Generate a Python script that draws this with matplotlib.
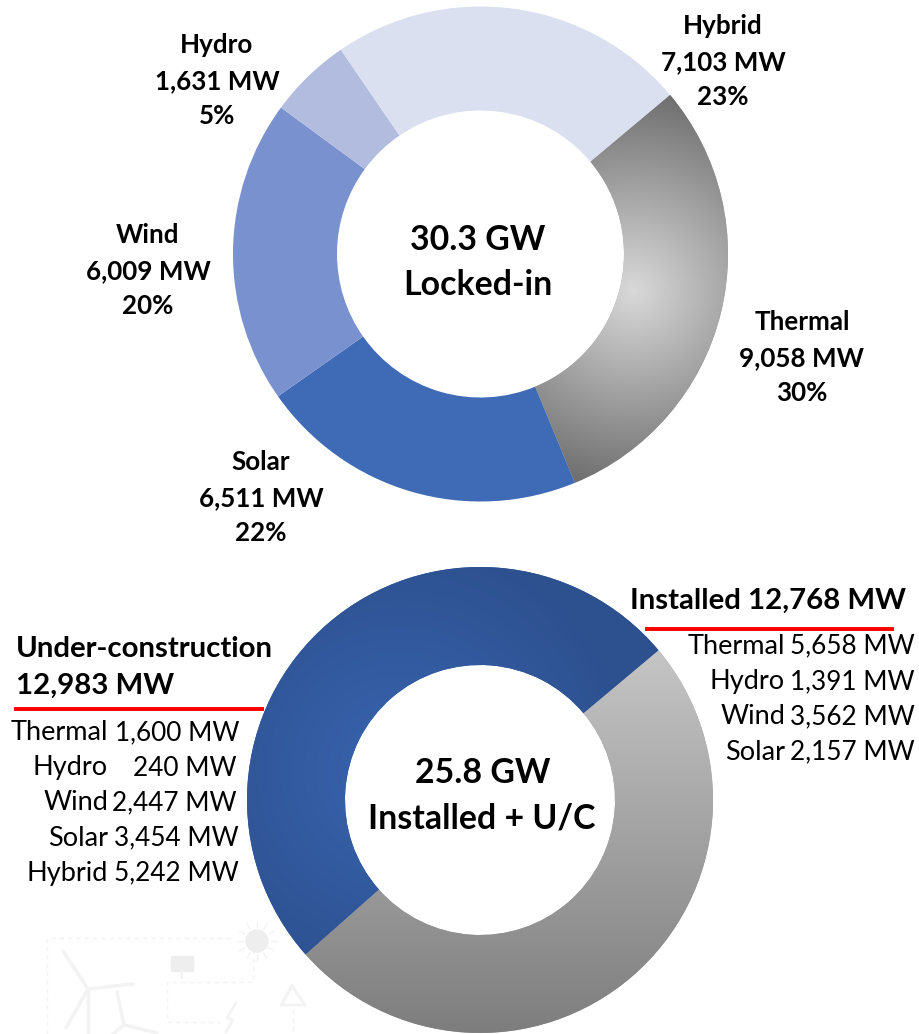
import numpy as np
import matplotlib
matplotlib.use("Agg")
import matplotlib.pyplot as plt

plt.rcParams['font.family'] = ['Lato', 'DejaVu Sans']

W, H = 920, 1034

# top donut, clockwise from the thermal slice
locked_names = ["Thermal", "Solar", "Wind", "Hydro", "Hybrid"]
locked_mw = [9058, 6511, 6009, 1631, 7103]
locked_pct = [30, 22, 20, 5, 23]
locked_colors = ["#a0a0a0", "#3f6ab5", "#7a91d0", "#b2bcde", "#dae0ef"]
locked_label_x = [802, 261, 148, 217, 723]
locked_label_y = [322, 462, 235, 45, 26]

# bottom donut
status_mw = [12768, 12983]
status_colors = ["#a2a2a2", "#31589e"]

uc_names = ["Thermal", "Hydro", "Wind", "Solar", "Hybrid"]
uc_mw = [1600, 240, 2447, 3454, 5242]
uc_value_right = [239, 237, 237, 239, 239]
uc_y = [733, 768, 803, 838, 873]

inst_names = ["Thermal", "Hydro", "Wind", "Solar"]
inst_mw = [5658, 1391, 3562, 2157]
inst_y = [646, 682, 717, 752]


def Y(py):
    return H - py


def grad_fill(ax, wedge, box, func):
    # gradient image clipped to a wedge, box is x0, x1, ytop, ybottom in pixels
    x0, x1, y0, y1 = box
    xs = np.arange(x0, x1, 1.0)
    ys = np.arange(y0, y1, 1.0)
    xx, yy = np.meshgrid(xs, ys)
    im = ax.imshow(func(xx, yy), extent=(x0, x1, Y(y1), Y(y0)), origin="upper",
                   interpolation="bilinear", zorder=3, aspect="auto")
    im.set_clip_path(wedge)


def mix(a, b, t):
    a, b = np.array(a, float), np.array(b, float)
    t = np.clip(t, 0, 1)[..., None]
    return ((a + (b - a) * t) / 255.0)


def thermal_fill(xx, yy):
    d = np.hypot(xx - 633, yy - 290)
    return mix([217, 217, 217], [110, 110, 110], d / 200)


def installed_fill(xx, yy):
    return mix([197, 197, 197], [125, 125, 125], (yy - 650) / 384)


def uc_fill(xx, yy):
    d = np.hypot(xx - 400, yy - 770)
    return mix([56, 100, 176], [45, 80, 142], d / 240)


fig = plt.figure(figsize=(W / 100, H / 100), dpi=100)
ax = fig.add_axes([0, 0, 1, 1])

# faint watermark sketch behind the bottom donut
wm = "#f3f3f3"
wm_d = dict(color=wm, lw=1, ls=(0, (3, 3)), zorder=1)
ax.plot([47, 47, 230], [Y(1034), Y(938), Y(938)], **wm_d)
ax.plot([253, 253, 167, 167, 220], [Y(950), Y(982), Y(982), Y(1022), Y(1022)], **wm_d)
ax.plot([293, 293], [Y(1010), Y(1034)], **wm_d)
ax.add_patch(plt.Circle((257, Y(941)), 11, color="#eeeeee", zorder=1))
for a in np.arange(0, 360, 30):
    ca, sa = np.cos(np.radians(a)), np.sin(np.radians(a))
    ax.plot([257 + 14 * ca, 257 + 20 * ca], [Y(941) + 14 * sa, Y(941) + 20 * sa], color=wm, lw=1, zorder=1)
ax.fill([171, 193, 193, 171], [Y(956), Y(956), Y(971), Y(971)], color="#eeeeee", zorder=1)
ax.plot([181, 181], [Y(971), Y(977)], color=wm, lw=2, zorder=1)
for tx, ty, blades in [(88, 989, [(63, 951), (133, 984), (66, 1028)]),
                       (124, 1025, [(117, 992), (157, 1033), (113, 1034)])]:
    for bx, by in blades:
        ax.plot([tx, bx], [Y(ty), Y(by)], color=wm, lw=2.5, solid_capstyle="round", zorder=1)
ax.plot([88, 88], [Y(989), Y(1034)], color=wm, lw=2.5, zorder=1)
ax.plot([236, 227, 233, 226], [Y(1003), Y(1018), Y(1020), Y(1032)], color=wm, lw=2, zorder=1)
ax.plot([292, 281, 305, 292], [Y(986), Y(1005), Y(1005), Y(986)], color=wm, lw=2, zorder=1)

# top donut
wedges, _ = ax.pie(locked_mw, colors=locked_colors, startangle=40, counterclock=False,
                   center=(480.5, Y(254)), radius=247.5, frame=True,
                   wedgeprops=dict(width=104, linewidth=0, zorder=2))
grad_fill(ax, wedges[0], (480, 732, 90, 490), thermal_fill)

# bottom donut
wedges2, _ = ax.pie(status_mw, colors=status_colors, startangle=40, counterclock=False,
                    center=(480, Y(800)), radius=233, frame=True,
                    wedgeprops=dict(width=98, linewidth=0, zorder=2))
grad_fill(ax, wedges2[0], (300, 716, 645, 1034), installed_fill)
grad_fill(ax, wedges2[1], (244, 662, 564, 960), uc_fill)

ax.set_xlim(0, W)
ax.set_ylim(0, H)
ax.set_aspect("auto")
ax.axis("off")

lab = dict(fontsize=18.7, fontweight="bold", color="black", ha="center", va="center", zorder=5)
for name, mw, pct, x, y in zip(locked_names, locked_mw, locked_pct, locked_label_x, locked_label_y):
    ax.text(x, Y(y), name, **lab)
    ax.text(x, Y(y + 36), f"{mw:,} MW", **lab)
    ax.text(x, Y(y + 71), f"{pct}%", **lab)

big = dict(fontsize=24.4, fontweight="bold", color="black", ha="center", va="center", zorder=5)
ax.text(478, Y(240), "30.3 GW", **big)
ax.text(478, Y(285), "Locked-in", **big)
ax.text(483, Y(773), "25.8 GW", **big)
ax.text(482, Y(818), "Installed + U/C", **big)

head = dict(fontsize=21.2, fontweight="bold", color="black", va="center", zorder=5)
ax.text(16, Y(649), "Under-construction", ha="left", **head)
ax.text(16, Y(686), f"{status_mw[1]:,} MW", ha="left", **head)
ax.text(630, Y(601), f"Installed {status_mw[0]:,} MW", ha="left", **head)

ax.plot([14, 264], [Y(708.5), Y(708.5)], color="#ff0000", lw=2.8, solid_capstyle="butt", zorder=5)
ax.plot([645, 894], [Y(629), Y(629)], color="#ff0000", lw=2.8, solid_capstyle="butt", zorder=5)

row = dict(color="black", va="center", zorder=5)
for name, mw, xr, y in zip(uc_names, uc_mw, uc_value_right, uc_y):
    ax.text(108, Y(y), name, ha="right", fontsize=19.5, **row)
    ax.text(xr, Y(y), f"{mw:,} MW", ha="right", fontsize=18.8, **row)
for name, mw, y in zip(inst_names, inst_mw, inst_y):
    ax.text(785, Y(y), name, ha="right", fontsize=19.5, **row)
    ax.text(915, Y(y), f"{mw:,} MW", ha="right", fontsize=18.8, **row)

fig.savefig("out.png", dpi=100)
